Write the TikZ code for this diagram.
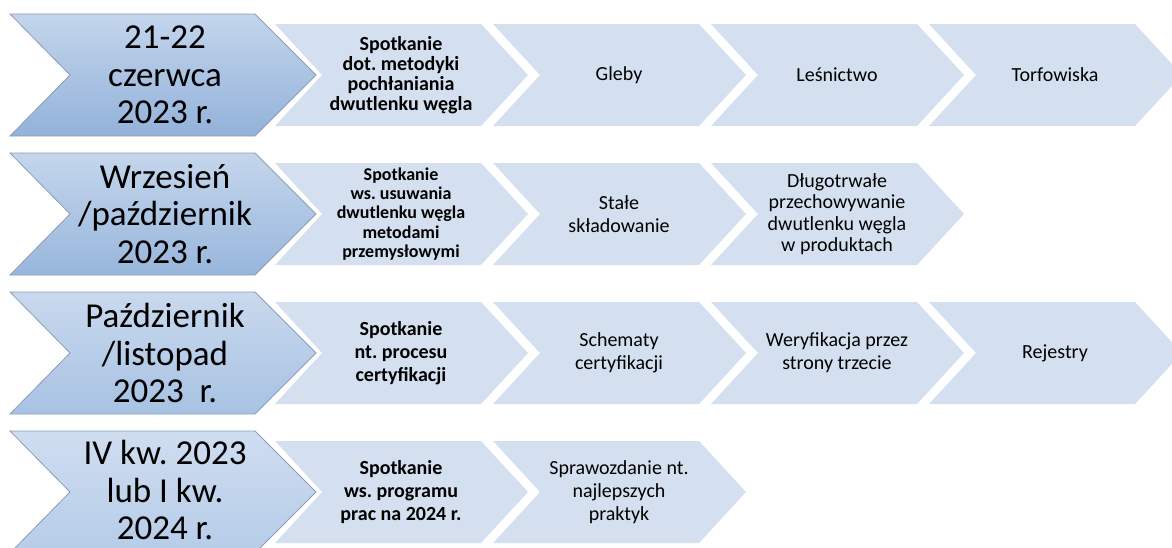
\documentclass[tikz,border=0pt]{standalone}
\usepackage{fontspec}
\setmainfont{Carlito}
\usepackage{xcolor}
\usetikzlibrary{positioning, calc}

\definecolor{stepfill}{HTML}{D4E0EF}
\definecolor{dateedge}{HTML}{8C9DB4}

\frenchspacing

\begin{document}
\begin{tikzpicture}[x=1pt,y=-1pt,
    datetext/.style={align=center, inner sep=0pt, font=\fontsize{35}{37.5}\selectfont},
    steptext/.style={align=center, inner sep=0pt, font=\fontsize{20}{23}\selectfont},
    keytext/.style={steptext, font=\fontsize{20}{23}\selectfont\bfseries},
    stepbox/.style={fill=stepfill, draw=none},
    datebox/.style={draw=dateedge, line width=0.8pt}]

        \useasboundingbox (0,0) rectangle (1172,547);
        \clip (0,0) rectangle (1172,547);

        % ==========================================
        % Chevrons (shapes)
        % ==========================================
        % date chevrons, one per row
        \foreach \cy/\ct/\cb in {75/C3D5EC/93B2DA, 214/C4D6EC/98B6DC, 353/C9D9EE/A7C2E3, 492/CFDDF0/B6CCE8} {
            \definecolor{dtop}{HTML}{\ct}
            \definecolor{dbot}{HTML}{\cb}
            \draw[datebox, top color=dtop, bottom color=dbot]
                (10,\cy-61) -- ++(245,0) -- ++(61,61) -- ++(-61,61)
                -- ++(-245,0) -- ++(60,-61) -- cycle;
        }

        % step chevrons: row centre / number of steps
        \foreach \cy/\n in {75/4, 214/3, 353/4, 492/2} {
            \foreach \i in {1,...,\n} {
                \draw[stepbox] (275+218*\i-218,\cy-51) -- ++(206,0) -- ++(47,51)
                    -- ++(-47,51) -- ++(-206,0) -- ++(47,-51) -- cycle;
            }
        }

        % ==========================================
        % Row 1
        % ==========================================
        \node[datetext] (d1) at (165,75) {21-22\\czerwca\\2023 r.};
        \node[keytext, font=\fontsize{20}{20}\selectfont\bfseries] (k1) at (401,75)
            {Spotkanie\\dot. metodyki\\pochłaniania\\dwutlenku węgla};
        \node[steptext] (s12) at (619,75) {Gleby};
        \node[steptext] (s13) at (837,75) {Leśnictwo};
        \node[steptext] (s14) at (1055,75) {Torfowiska};

        % ==========================================
        % Row 2
        % ==========================================
        \node[datetext] (d2) at (165,214) {Wrzesień\\/październik\\2023 r.};
        \node[keytext, font=\fontsize{18}{19.4}\selectfont\bfseries] (k2) at (401,214)
            {Spotkanie\\ws. usuwania\\dwutlenku węgla\\metodami\\przemysłowymi};
        \node[steptext] (s22) at (619,214) {Stałe\\składowanie};
        \node[steptext, font=\fontsize{20}{21.5}\selectfont] (s23) at (837,214)
            {Długotrwałe\\przechowywanie\\dwutlenku węgla\\w produktach};

        % ==========================================
        % Row 3
        % ==========================================
        \node[datetext] (d3) at (165,353) {Październik\\/listopad\\2023~~r.};
        \node[keytext] (k3) at (401,353) {Spotkanie\\nt. procesu\\certyfikacji};
        \node[steptext] (s32) at (619,353) {Schematy\\certyfikacji};
        \node[steptext] (s33) at (837,353) {Weryfikacja przez\\strony trzecie};
        \node[steptext] (s34) at (1055,353) {Rejestry};

        % ==========================================
        % Row 4
        % ==========================================
        \node[datetext] (d4) at (165,490) {IV kw. 2023\\lub I kw.\\2024 r.};
        \node[keytext] (k4) at (401,492) {Spotkanie\\ws. programu\\prac na 2024 r.};
        \node[steptext] (s42) at (619,492) {Sprawozdanie nt.\\najlepszych\\praktyk};

\end{tikzpicture}
\end{document}
